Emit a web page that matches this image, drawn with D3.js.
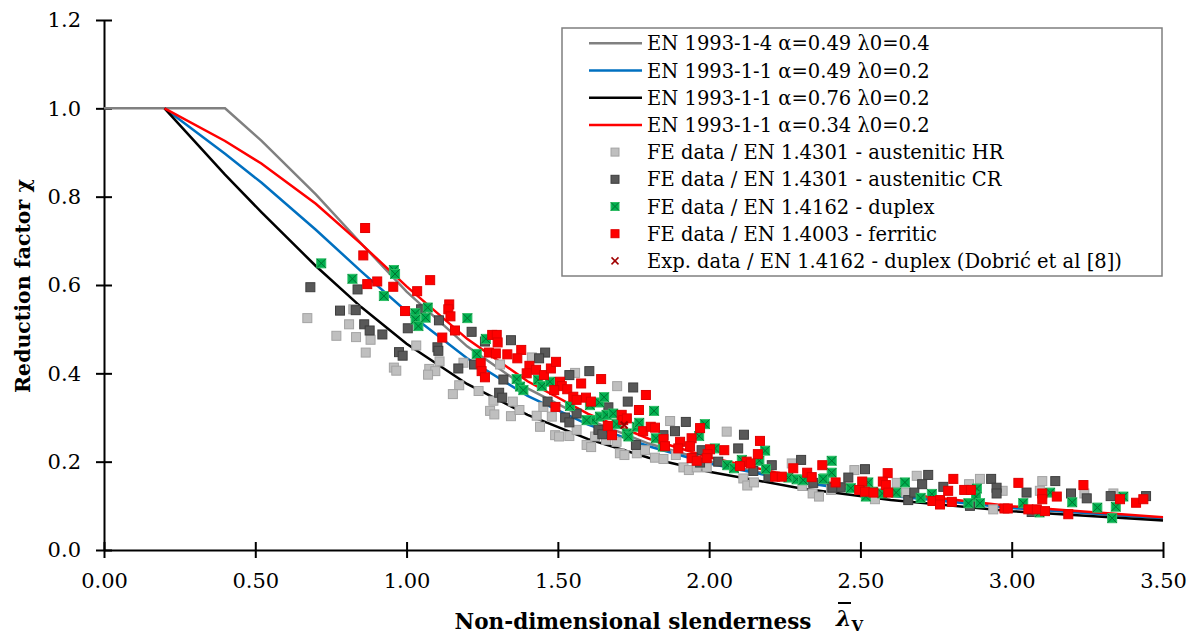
<!DOCTYPE html>
<html>
<head>
<meta charset="utf-8">
<script src="https://cdn.jsdelivr.net/npm/d3@7"></script>
<style>
  html, body { margin: 0; padding: 0; background: #fff; }
  svg { display: block; font-family: "DejaVu Serif", serif; }
</style>
</head>
<body>
<div id="chart"></div>
<script>
// curve sampling points (slenderness)
const lamGray = [0, 0.2, 0.4, 0.52, 0.7, 0.85, 1.0, 1.2, 1.4, 1.6, 1.8, 2.0, 2.3, 2.6, 3.0, 3.5]
const lamEC3 = [0.2, 0.4, 0.52, 0.7, 0.85, 1.0, 1.2, 1.4, 1.6, 1.8, 2.0, 2.3, 2.6, 3.0, 3.5]

// reduction factor values for each curve
const chiGray  = [1, 1, 1, 0.927, 0.805, 0.694, 0.585, 0.461, 0.366, 0.295, 0.241, 0.201, 0.156, 0.125, 0.096, 0.072]
const chiBlue  = [1, 0.897, 0.832, 0.725, 0.631, 0.540, 0.434, 0.349, 0.284, 0.235, 0.196, 0.154, 0.123, 0.095, 0.072]
const chiBlack = [1, 0.850, 0.765, 0.643, 0.550, 0.467, 0.376, 0.306, 0.251, 0.209, 0.177, 0.140, 0.113, 0.088, 0.067]
const chiRed   = [1, 0.926, 0.875, 0.784, 0.693, 0.597, 0.478, 0.382, 0.308, 0.252, 0.210, 0.163, 0.130, 0.099, 0.074]

// FE data / EN 1.4301 - austenitic HR  [lambda, chi]
const dataHR = [
  [0.672,0.525],[0.768,0.485],[0.810,0.511],[0.824,0.545],[0.833,0.482],[0.881,0.476],[0.865,0.447],
  [0.958,0.413],[0.966,0.406],[1.032,0.463],[1.109,0.427],[1.075,0.410],[1.095,0.405],[1.071,0.397],
  [1.174,0.373],[1.153,0.353],[1.188,0.424],[1.238,0.360],[1.309,0.420],[1.287,0.338],[1.276,0.315],
  [1.290,0.307],[1.345,0.303],[1.373,0.317],[1.351,0.336],[1.414,0.436],[1.557,0.401],[1.430,0.304],
  [1.441,0.279],[1.480,0.302],[1.452,0.324],[1.491,0.260],[1.504,0.257],[1.538,0.258],[1.562,0.272],
  [1.595,0.238],[1.610,0.233],[1.623,0.257],[1.659,0.249],[1.696,0.371],[1.705,0.219],[1.720,0.215],
  [1.694,0.245],[1.761,0.219],[1.871,0.292],[2.058,0.268],[1.821,0.209],[1.849,0.206],[1.788,0.226],
  [1.890,0.215],[1.915,0.187],[1.933,0.181],[1.959,0.187],[1.992,0.187],[2.113,0.162],[2.126,0.146],
  [2.148,0.153],[2.273,0.196],[2.308,0.145],[2.342,0.128],[2.363,0.121],[2.480,0.181],[2.686,0.168],
  [2.620,0.152],[2.403,0.136],[2.548,0.115],[2.651,0.130],[2.859,0.149],[2.895,0.161],[2.939,0.092],
  [2.739,0.113],[2.970,0.134],[3.101,0.156],[3.240,0.128],[3.336,0.128],[3.093,0.134]
]

// FE data / EN 1.4301 - austenitic CR
const dataCR = [
  [0.682,0.595],[0.780,0.542],[0.832,0.543],[0.838,0.590],[0.860,0.511],[0.878,0.497],[0.920,0.488],
  [1.004,0.502],[1.048,0.545],[1.107,0.520],[1.102,0.459],[1.105,0.451],[0.975,0.448],[0.987,0.440],
  [1.215,0.494],[1.171,0.411],[1.223,0.420],[1.259,0.472],[1.345,0.475],[1.458,0.447],[1.438,0.434],
  [1.538,0.396],[1.604,0.405],[1.320,0.386],[1.306,0.356],[1.316,0.345],[1.466,0.336],[1.524,0.300],
  [1.538,0.289],[1.562,0.309],[1.634,0.272],[1.647,0.262],[1.749,0.368],[1.731,0.336],[1.667,0.323],
  [1.758,0.238],[1.923,0.290],[1.887,0.269],[2.115,0.261],[2.096,0.230],[2.030,0.200],[1.970,0.198],
  [2.196,0.166],[2.146,0.179],[2.207,0.192],[2.304,0.204],[2.344,0.152],[1.849,0.260],[1.975,0.226],
  [1.948,0.208],[2.515,0.183],[2.460,0.164],[2.435,0.142],[2.407,0.141],[2.724,0.170],[2.704,0.149],
  [2.774,0.143],[2.658,0.113],[2.678,0.130],[2.932,0.161],[2.950,0.141],[2.862,0.100],[2.950,0.128],
  [3.049,0.130],[3.144,0.156],[3.196,0.128],[3.248,0.117],[3.327,0.122],[3.444,0.122],[3.066,0.086]
]

// FE data / EN 1.4162 - duplex
const dataDuplex = [
  [0.718,0.649],[0.821,0.614],[0.958,0.634],[0.962,0.625],[0.925,0.575],[1.029,0.536],[1.030,0.522],
  [1.039,0.507],[1.063,0.526],[1.070,0.549],[1.201,0.525],[1.232,0.444],[1.262,0.478],[1.364,0.387],
  [1.375,0.370],[1.386,0.362],[1.435,0.385],[1.447,0.371],[1.474,0.381],[1.540,0.326],[1.606,0.328],
  [1.637,0.334],[1.653,0.346],[1.617,0.294],[1.639,0.302],[1.661,0.306],[1.683,0.309],[1.694,0.285],
  [1.728,0.264],[1.733,0.257],[1.761,0.279],[1.595,0.294],[1.818,0.315],[1.769,0.288],[1.824,0.253],
  [1.847,0.234],[1.986,0.285],[1.967,0.258],[2.019,0.230],[2.185,0.225],[2.166,0.202],[2.060,0.192],
  [2.082,0.185],[2.108,0.204],[2.188,0.183],[2.262,0.164],[2.289,0.160],[2.381,0.162],[2.311,0.158],
  [2.405,0.202],[2.405,0.175],[2.377,0.161],[2.468,0.140],[2.526,0.153],[2.541,0.132],[2.572,0.128],
  [2.518,0.121],[2.618,0.130],[2.647,0.153],[2.699,0.118],[2.736,0.127],[2.885,0.139],[2.882,0.121],
  [2.857,0.106],[2.895,0.106],[3.038,0.106],[3.127,0.130],[3.200,0.108],[3.283,0.096],[3.344,0.098],
  [3.369,0.121],[3.332,0.072],[3.092,0.085]
]

// FE data / EN 1.4003 - ferritic
const dataFerritic = [
  [0.863,0.729],[0.857,0.667],[0.870,0.602],[0.903,0.608],[0.956,0.596],[1.078,0.611],[1.035,0.586],
  [1.141,0.556],[1.138,0.545],[1.145,0.529],[0.995,0.541],[1.160,0.497],[1.118,0.481],[1.283,0.487],
  [1.298,0.487],[1.301,0.470],[1.272,0.447],[1.295,0.445],[1.333,0.443],[1.379,0.453],[1.366,0.434],
  [1.245,0.423],[1.248,0.405],[1.259,0.391],[1.406,0.417],[1.397,0.400],[1.428,0.408],[1.454,0.396],
  [1.477,0.411],[1.494,0.426],[1.507,0.381],[1.513,0.371],[1.488,0.362],[1.531,0.364],[1.577,0.377],
  [1.643,0.387],[1.551,0.347],[1.562,0.340],[1.593,0.345],[1.609,0.336],[1.492,0.324],[1.665,0.281],
  [1.679,0.260],[1.711,0.306],[1.716,0.294],[1.728,0.298],[1.768,0.317],[1.791,0.351],[1.782,0.269],
  [1.807,0.279],[1.821,0.277],[1.970,0.276],[1.942,0.253],[1.904,0.245],[1.898,0.230],[1.937,0.235],
  [1.849,0.251],[1.854,0.235],[2.003,0.228],[1.995,0.217],[1.992,0.208],[1.942,0.208],[1.959,0.202],
  [2.050,0.226],[2.168,0.247],[2.161,0.217],[2.124,0.200],[2.137,0.196],[2.102,0.190],[2.218,0.166],
  [2.240,0.166],[2.278,0.185],[2.324,0.175],[2.374,0.192],[2.339,0.165],[2.590,0.174],[2.506,0.155],
  [2.574,0.155],[2.584,0.147],[2.496,0.136],[2.515,0.132],[2.543,0.130],[2.592,0.130],[2.807,0.161],
  [2.790,0.134],[2.843,0.136],[2.865,0.136],[2.738,0.111],[2.763,0.113],[2.763,0.103],[2.802,0.109],
  [2.418,0.153],[3.022,0.152],[3.101,0.128],[3.101,0.115],[3.149,0.121],[3.237,0.147],[3.358,0.115],
  [3.411,0.107],[3.435,0.115],[2.976,0.094],[2.987,0.094],[3.055,0.092],[3.083,0.092],[3.110,0.088],
  [3.187,0.081]
]

// Exp. data / EN 1.4162 - duplex (Dobrić et al [8])
const dataExp = [[1.719, 0.283]]

const xTicks = [0, 0.5, 1.0, 1.5, 2.0, 2.5, 3.0, 3.5]
const yTicks = [0, 0.2, 0.4, 0.6, 0.8, 1.0, 1.2]

const width = 1195, height = 640
const svg = d3.select("#chart").append("svg")
    .attr("width", width)
    .attr("height", height)

const x = d3.scaleLinear().domain([0, 3.5]).range([104, 1163])
const y = d3.scaleLinear().domain([0, 1.2]).range([550, 20])

// ejes con marcas que cruzan la línea
const yAxis = svg.append("g")
    .attr("transform", "translate(104,0)")
    .call(d3.axisLeft(y).tickValues(yTicks).tickFormat(d3.format(".1f"))
        .tickSizeInner(8).tickSizeOuter(0).tickPadding(15))
yAxis.selectAll(".tick").append("line").attr("x2", 8).attr("stroke", "#000")

const xAxis = svg.append("g")
    .attr("transform", "translate(0,550)")
    .call(d3.axisBottom(x).tickValues(xTicks).tickFormat(d3.format(".2f"))
        .tickSizeInner(8).tickSizeOuter(0).tickPadding(15))
xAxis.selectAll(".tick").append("line").attr("y2", -8).attr("stroke", "#000")

svg.selectAll(".domain").attr("stroke", "#000").attr("stroke-width", 2)
svg.selectAll(".tick line").attr("stroke", "#000").attr("stroke-width", 2)
svg.selectAll(".tick text")
    .attr("fill", "#000")
    .attr("font-size", 21)
    .attr("font-family", "'DejaVu Serif', serif")

// curvas
const curves = [
  { lam: lamGray, chi: chiGray, color: "#808080" },
  { lam: lamEC3, chi: chiBlue, color: "#0070c0" },
  { lam: lamEC3, chi: chiBlack, color: "#000000" },
  { lam: lamEC3, chi: chiRed, color: "#ff0000" }
]
const line = d3.line().x(d => x(d[0])).y(d => y(d[1]))
curves.forEach(c => {
  svg.append("path")
      .attr("d", line(c.lam.map((l, i) => [l, c.chi[i]])))
      .attr("fill", "none")
      .attr("stroke", c.color)
      .attr("stroke-width", 2.5)
})

// marcadores
function drawSquares(data, fill, stroke) {
  svg.append("g").selectAll("rect")
    .data(data)
    .join("rect")
      .attr("x", d => x(d[0]) - 4.5)
      .attr("y", d => y(d[1]) - 4.5)
      .attr("width", 9)
      .attr("height", 9)
      .attr("fill", fill)
      .attr("stroke", stroke)
      .attr("stroke-width", 1)
}
function drawCrossSquares(g, pts, s) {
  pts.forEach(([px, py]) => {
    g.append("rect")
      .attr("x", px - s).attr("y", py - s)
      .attr("width", 2 * s).attr("height", 2 * s)
      .attr("fill", "#00b050").attr("stroke", "#2fbf66").attr("stroke-width", 1)
    g.append("path")
      .attr("d", `M${px - s},${py - s}L${px + s},${py + s}M${px - s},${py + s}L${px + s},${py - s}`)
      .attr("stroke", "#00722f").attr("stroke-width", 1)
  })
}

drawSquares(dataHR, "#bfbfbf", "#a3a3a3")
drawSquares(dataCR, "#585858", "#3e3e3e")
drawCrossSquares(svg.append("g"), dataDuplex.map(d => [x(d[0]), y(d[1])]), 4.5)
drawSquares(dataFerritic, "#ff0000", "#e00000")
svg.append("g").selectAll("path")
  .data(dataExp)
  .join("path")
    .attr("d", d => {
      const px = x(d[0]), py = y(d[1])
      return `M${px - 3.5},${py - 3.5}L${px + 3.5},${py + 3.5}M${px - 3.5},${py + 3.5}L${px + 3.5},${py - 3.5}`
    })
    .attr("stroke", "#a00000")
    .attr("stroke-width", 2)

// leyenda
const legendItems = [
  { type: "line", color: "#808080", label: "EN 1993-1-4 α=0.49 λ0=0.4" },
  { type: "line", color: "#0070c0", label: "EN 1993-1-1 α=0.49 λ0=0.2" },
  { type: "line", color: "#000000", label: "EN 1993-1-1 α=0.76 λ0=0.2" },
  { type: "line", color: "#ff0000", label: "EN 1993-1-1 α=0.34 λ0=0.2" },
  { type: "sq", fill: "#bfbfbf", stroke: "#a3a3a3", label: "FE data / EN 1.4301 - austenitic HR" },
  { type: "sq", fill: "#585858", stroke: "#3e3e3e", label: "FE data / EN 1.4301 - austenitic CR" },
  { type: "cross", label: "FE data / EN 1.4162 - duplex" },
  { type: "sq", fill: "#ff0000", stroke: "#e00000", label: "FE data / EN 1.4003 - ferritic" },
  { type: "x", label: "Exp. data / EN 1.4162 - duplex (Dobrić et al [8])" }
]
const legend = svg.append("g")
legend.append("rect")
    .attr("x", 562).attr("y", 28)
    .attr("width", 600).attr("height", 248)
    .attr("fill", "#fff")
    .attr("stroke", "#7f7f7f")
    .attr("stroke-width", 1.5)

legendItems.forEach((it, i) => {
  const cy = 43.3 + i * 27.2
  if (it.type === "line") {
    legend.append("line").attr("x1", 589).attr("x2", 642).attr("y1", cy).attr("y2", cy)
      .attr("stroke", it.color).attr("stroke-width", 2.5)
  } else if (it.type === "sq") {
    legend.append("rect").attr("x", 611).attr("y", cy - 4).attr("width", 8).attr("height", 8)
      .attr("fill", it.fill).attr("stroke", it.stroke)
  } else if (it.type === "cross") {
    drawCrossSquares(legend, [[615, cy]], 4)
  } else {
    legend.append("path")
      .attr("d", `M611.5,${cy - 3.5}L618.5,${cy + 3.5}M611.5,${cy + 3.5}L618.5,${cy - 3.5}`)
      .attr("stroke", "#a00000").attr("stroke-width", 1.5)
  }
  legend.append("text")
      .attr("x", 647).attr("y", cy)
      .attr("dy", "0.36em")
      .attr("font-size", 19.5)
      .attr("fill", "#000")
      .text(it.label)
})

// títulos de ejes
svg.append("text")
    .attr("transform", "translate(30,286) rotate(-90)")
    .attr("text-anchor", "middle")
    .attr("font-size", 20.5)
    .attr("font-weight", "bold")
    .text("Reduction factor χ")

svg.append("text")
    .attr("x", 633).attr("y", 629)
    .attr("text-anchor", "middle")
    .attr("font-size", 21.5)
    .attr("font-weight", "bold")
    .text("Non-dimensional slenderness")

const lamLabel = svg.append("text")
    .attr("x", 836).attr("y", 626)
    .attr("font-size", 22)
lamLabel.append("tspan").attr("font-style", "italic").attr("font-weight", "bold").text("λ")
lamLabel.append("tspan").attr("dy", 5).attr("font-size", 15).attr("font-weight", "bold").text("V")
svg.append("line")
    .attr("x1", 838).attr("x2", 851).attr("y1", 603).attr("y2", 603)
    .attr("stroke", "#000").attr("stroke-width", 2)
</script>
</body>
</html>
